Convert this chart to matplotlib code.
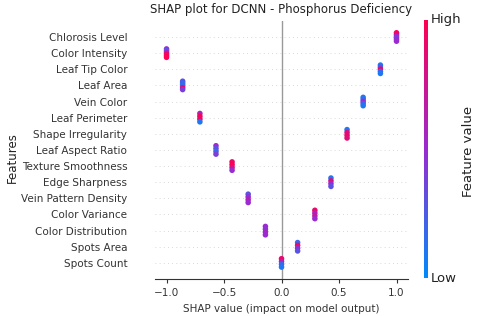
import numpy as np
import matplotlib
matplotlib.use("Agg")
import matplotlib.pyplot as plt
from matplotlib.colors import LinearSegmentedColormap

# Features from top to bottom
features = ["Chlorosis Level", "Color Intensity", "Leaf Tip Color", "Leaf Area",
            "Vein Color", "Leaf Perimeter", "Shape Irregularity", "Leaf Aspect Ratio",
            "Texture Smoothness", "Edge Sharpness", "Vein Pattern Density",
            "Color Variance", "Color Distribution", "Spots Area", "Spots Count"]

# SHAP value of each feature (all samples share the same value)
shap_values = [1.0, -1.0, 0.86, -0.86, 0.71, -0.71, 0.57, -0.57,
               -0.43, 0.43, -0.29, 0.29, -0.14, 0.14, 0.0]

# Normalised feature values of the samples, top to bottom within each cluster
feature_values = [
    [1.0, 0.9, 0.5, 0.4, 0.45, 0.5],
    [0.5, 0.2, 0.6, 0.9, 0.95, 1.0],
    [0.1, 0.3, 0.95, 0.2, 0.1],
    [0.3, 0.2, 0.15, 0.2, 0.9, 0.4],
    [0.1, 0.2, 0.5, 0.2, 0.1],
    [0.6, 0.95, 0.9, 0.1],
    [0.1, 0.8, 0.9, 0.85],
    [0.5, 0.3, 0.2, 0.4],
    [0.9, 1.0, 0.8, 0.5],
    [0.1, 0.8, 0.5, 0.3],
    [0.3, 0.5, 0.6, 0.5],
    [0.9, 0.6, 0.7, 0.5],
    [0.5, 0.45, 0.55, 0.5],
    [0.2, 0.9, 0.5, 0.3],
    [0.9, 0.6, 0.2, 0.1],
]

cmap = LinearSegmentedColormap.from_list("red_blue", ["#008bfb", "#9a2bd0", "#ff0052"])

fig = plt.figure(figsize=(4.8, 3.16), dpi=100)
ax = fig.add_axes([0.323, 0.117, 0.527, 0.817])

n = len(features)
for i, (name, val, fv) in enumerate(zip(features, shap_values, feature_values)):
    row = n - 1 - i
    ax.axhline(row, color="#cccccc", lw=0.6, dashes=(1, 4), zorder=-1)
    # stack samples vertically like a beeswarm
    offs = np.linspace(0.26, -0.26, len(fv))
    ax.scatter([val] * len(fv), row + offs, c=fv, cmap=cmap, vmin=0, vmax=1,
               s=16, linewidths=0, zorder=3)

ax.axvline(0, color="#999999", lw=1, zorder=-1)
ax.set_ylim(-1, n)
ax.set_xlim(-1.1, 1.1)
ax.set_yticks(range(n))
ax.set_yticklabels(features[::-1], fontsize=7.5, color="#333333")
ax.tick_params(axis="y", length=0, pad=20)
ax.tick_params(axis="x", labelsize=7.5, colors="#333333", length=3)
ax.set_xticks([-1.0, -0.5, 0.0, 0.5, 1.0])
for s in ["top", "right", "left"]:
    ax.spines[s].set_visible(False)
ax.spines["bottom"].set_color("#333333")
ax.set_xlabel("SHAP value (impact on model output)", fontsize=7.5, color="#333333")
ax.set_title("SHAP plot for DCNN - Phosphorus Deficiency", fontsize=8.5, color="#222222", pad=6)
fig.text(0.012, 0.5, "Features", rotation=90, va="center", ha="left", fontsize=8.5, color="#222222")

# colour bar
cax = fig.add_axes([0.884, 0.12, 0.007, 0.817])
grad = np.linspace(0, 1, 256).reshape(-1, 1)
cax.imshow(grad, cmap=cmap, aspect="auto", origin="lower", extent=[0, 1, 0, 1])
cax.set_xticks([])
cax.set_yticks([])
for s in cax.spines.values():
    s.set_visible(False)
fig.text(0.898, 0.937, "High", fontsize=9.5, va="center", color="#222222")
fig.text(0.898, 0.12, "Low", fontsize=9.5, va="center", color="#222222")
fig.text(0.975, 0.52, "Feature value", rotation=90, va="center", ha="center", fontsize=9.5, color="#222222")

fig.savefig("out.png", dpi=100)
